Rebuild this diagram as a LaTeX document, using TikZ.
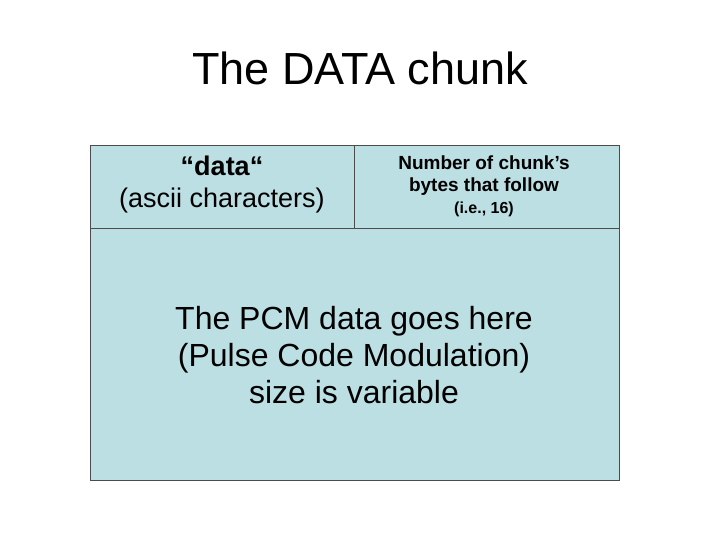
\documentclass[tikz,border=0pt]{standalone}
\usepackage{fontspec}
\setmainfont{Liberation Sans}
\definecolor{chunkfill}{HTML}{BBDFE3}
\tikzset{
  cell/.style={draw=black!70,fill=chunkfill,line width=0.8pt},
  txt/.style={align=center,inner sep=0pt}
}
\begin{document}
\begin{tikzpicture}[x=1pt,y=-1pt]
  \useasboundingbox (0,0) rectangle (720,540);
  % Title
  \node[txt,font=\fontsize{45}{50}\selectfont] (title) at (360,68) {The DATA chunk};
  % Chunk layout
  \draw[cell] (90,145) rectangle (619,480);
  \draw[black!70,line width=0.8pt] (90,228) -- (619,228);
  \draw[black!70,line width=0.8pt] (354,145) -- (354,228);
  % Field labels
  \node[txt,font=\fontsize{27}{32}\selectfont] (id) at (222,185)
    {\textbf{``data``}\\(ascii characters)};
  \node[txt,font=\fontsize{19}{22}\selectfont\bfseries] (size) at (484,186)
    {Number of chunk’s\\bytes that follow\\\fontsize{16}{22}\selectfont(i.e., 16)};
  \node[txt,font=\fontsize{32}{37}\selectfont] (pcm) at (354,355)
    {The PCM data goes here\\(Pulse Code Modulation)\\size is variable};
\end{tikzpicture}
\end{document}
